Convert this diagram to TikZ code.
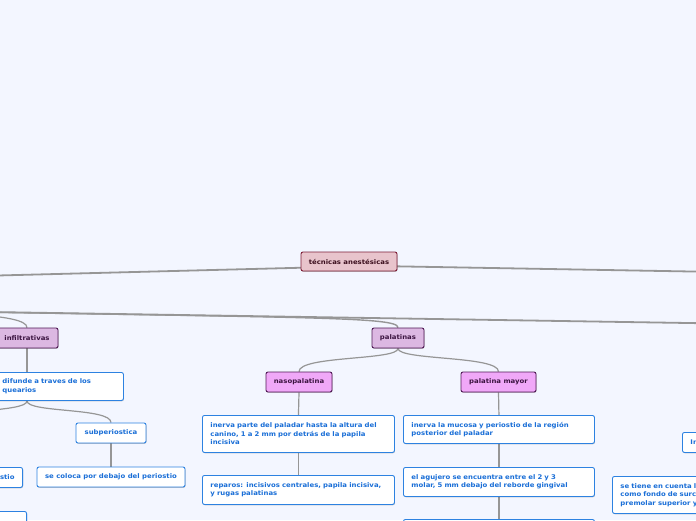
\documentclass[tikz,border=0pt]{standalone}
\usepackage{fontspec}
\newfontfamily\dvs[FakeStretch=1.08]{DejaVu Sans}
\usetikzlibrary{calc,shadows}
\definecolor{bgc}{RGB}{243,246,255}
\definecolor{rootfill}{RGB}{232,196,204}
\definecolor{rootborder}{RGB}{125,30,55}
\definecolor{roottext}{RGB}{60,15,30}
\definecolor{purpA}{RGB}{220,184,226}
\definecolor{purpB}{RGB}{240,168,248}
\definecolor{purpborder}{RGB}{80,25,85}
\definecolor{purptext}{RGB}{60,20,65}
\definecolor{boxblue}{RGB}{45,130,225}
\definecolor{txtblue}{RGB}{25,110,215}
\definecolor{lgray}{RGB}{150,150,150}
\pgfdeclarelayer{bglayer}
\pgfsetlayers{bglayer,main}
\begin{document}
\begin{tikzpicture}[x=1pt,y=-1pt,
  lbl/.style={font=\dvs\bfseries\fontsize{6.4}{8.5}\selectfont},
  shad/.style={drop shadow={shadow xshift=0.5pt,shadow yshift=-0.8pt,opacity=0.3,fill=black!70}},
  rootbox/.style={lbl,shad,draw=rootborder,fill=rootfill,text=roottext,rounded corners=2pt,line width=0.9pt,inner sep=0pt},
  pbox/.style={lbl,shad,draw=purpborder,fill=purpA,text=purptext,rounded corners=2pt,line width=0.9pt,inner sep=0pt,minimum height=20pt},
  mbox/.style={pbox,fill=purpB},
  wbox/.style={lbl,shad,draw=boxblue,fill=white,text=txtblue,rounded corners=2pt,line width=0.9pt,inner xsep=8pt,inner ysep=0pt,align=left},
  trunk/.style={draw=lgray,line width=1.8pt},
  conn/.style={draw=lgray,line width=1.2pt}]
\useasboundingbox (0,0) rectangle (696,520);
% nodes
\node[rootbox,minimum width=96pt,minimum height=19pt] (root) at (349,261.5) {técnicas anestésicas};
\node[pbox,minimum width=62pt] (infil) at (27,338) {infiltrativas};
\node[pbox,minimum width=52pt] (palat) at (398,338) {palatinas};
\node[mbox,minimum width=66pt] (naso) at (299,382) {nasopalatina};
\node[mbox,minimum width=75pt] (pmay) at (498.5,382) {palatina mayor};
\node[wbox,anchor=north west,text width=113pt,minimum height=28pt] (dif) at (-6,372) {difunde a traves de los\\quearios};
\node[wbox,anchor=center,minimum width=70pt,minimum height=20pt] (subp) at (111,433) {subperiostica};
\node[wbox,anchor=center,minimum width=148pt,minimum height=20pt] (coloca) at (111,477) {se coloca por debajo del periostio};
\node[wbox,anchor=north east,text width=47pt,align=right,minimum height=20pt] (stio) at (23,467) {stio};
\node[wbox,anchor=north east,minimum width=60pt,minimum height=30pt] (blbox) at (27,511) {};
\node[wbox,anchor=north west,text width=176pt,minimum height=37pt] (n1) at (202,415) {inerva parte del paladar hasta la altura del\\canino, 1 a 2 mm por detrás de la papila\\incisiva};
\node[wbox,anchor=north west,text width=176pt,minimum height=29pt] (n2) at (202,475) {reparos: incisivos centrales, papila incisiva,\\y rugas palatinas};
\node[wbox,anchor=north west,text width=175pt,minimum height=28pt] (p1) at (403,415) {inerva la mucosa y periostio de la región\\posterior del paladar};
\node[wbox,anchor=north west,text width=175pt,minimum height=29pt] (p2) at (403,467) {el agujero se encuentra entre el 2 y 3\\molar, 5 mm debajo del reborde gingival};
\node[wbox,anchor=north west,text width=175pt,minimum height=30pt] (p3) at (403,519) {};
\node[wbox,anchor=north west,text width=60pt,minimum height=20pt] (inb) at (682,432) {In};
\node[wbox,anchor=north west,text width=164pt,minimum height=37pt] (tiene) at (612,476) {se tiene en cuenta l\\como fondo de surc\\premolar superior y};
% free ends
\coordinate (hub) at (-200,309);
\coordinate (hubR) at (720,323.5);
\coordinate (farL) at (-100,278);
\coordinate (farR) at (720,272);
\coordinate (supra) at (-57,423);
\begin{pgfonlayer}{bglayer}
\fill[bgc] (0,0) rectangle (696,520);
\draw[trunk] ($(root.center)+(0,5)$) -- (farL);
\draw[trunk] ($(root.center)+(0,4)$) -- (farR);
\draw[trunk] (hub) -- (hubR);
\draw[conn,line width=1.4pt] (hub) .. controls (300,318) and (398,316) .. (palat.north);
\draw[conn] (hub) .. controls (-60,312) and (27,313) .. (infil.north);
\draw[conn] (infil.south) -- (infil.south |- dif.north);
\draw[conn] (infil.south |- dif.south) .. controls +(0,12) and +(0,-15) .. (subp.north);
\draw[conn] (infil.south |- dif.south) .. controls +(0,12) and +(0,-15) .. (supra);
\draw[conn] (subp.south) -- (coloca.north);
\draw[conn] (palat.south) .. controls +(0,12) and +(0,-16) .. (naso.north);
\draw[conn] (palat.south) .. controls +(0,12) and +(0,-16) .. (pmay.north);
\draw[conn] (naso.south) -- (n1.north);
\draw[conn] (n1.south) -- (n2.north);
\draw[conn] (pmay.south) -- (p1.north);
\draw[conn] (p1.south) -- (p2.north);
\draw[conn] (p2.south) -- (p3.north);
\end{pgfonlayer}
\end{tikzpicture}
\end{document}
